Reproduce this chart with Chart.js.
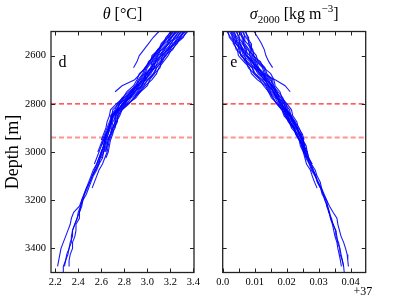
<!DOCTYPE html>
<html lang="en">
<head>
<meta charset="UTF-8">
<title>Theta and sigma2000 profiles</title>
<script src="https://cdn.jsdelivr.net/npm/chart.js"></script>
<style>
  html, body { margin: 0; padding: 0; background: #fff; }
  #wrap { position: relative; width: 407px; height: 305px; }
  #wrap canvas { position: absolute; top: 0; }
</style>
</head>
<body>
<div id="wrap">
  <canvas id="thetaChart" width="208" height="305" style="left:0"></canvas>
  <canvas id="sigmaChart" width="199" height="305" style="left:208px"></canvas>
</div>
<script>
// depth grid shared by every profile (m), profiles start at 2500 m
const depths = [2500, 2525, 2550, 2575, 2600, 2625, 2650, 2675, 2700, 2725,
                2750, 2775, 2800, 2825, 2850, 2875, 2900, 2925, 2950, 2975,
                3000, 3025, 3050, 3075, 3100, 3125, 3150, 3175, 3200, 3225,
                3250, 3275, 3300, 3325, 3350, 3375, 3400, 3425, 3450, 3475, 3500];

// potential temperature (degC)
const thetaProfiles = [
  [3.34,3.31,3.25,3.22,3.15,3.13,3.08,3.05,3.00,2.97,2.93,2.86,2.82,2.76,2.74,2.72,2.70,2.68,2.66,2.65,2.64],
  [3.20,3.17,3.12,3.10,3.04,3.03,2.99,2.97,2.93,2.91,2.85,2.82,2.76,2.74,2.70,2.68,2.66,2.64,2.62,2.60],
  [3.29,3.26,3.23,3.17,3.13,3.12,3.08,3.06,3.02,3.00,2.94,2.88,2.84,2.78,2.74,2.74,2.71,2.70,2.68,2.67,2.66,2.64],
  [3.24,3.21,3.15,3.10,3.07,3.01,2.99,2.93,2.91,2.88,2.82,2.79,2.73,2.68,2.67,2.65,2.64,2.62,2.60],
  [3.32,3.27,3.24,3.18,3.14,3.09,3.07,3.01,2.99,2.93,2.89,2.85,2.78,2.75,2.70,2.69,2.67,2.64,2.62,2.60,2.58,2.56,2.54],
  [3.22,3.19,3.17,3.12,3.09,3.05,3.04,2.99,2.98,2.95,2.88,2.84,2.81,2.76,2.72,2.72,2.70,2.68,2.66,2.65,2.63],
  [3.28,3.23,3.21,3.16,3.09,3.07,3.06,3.01,2.96,2.91,2.87,2.83,2.76,2.73,2.69,2.68,2.66,2.65,2.63,2.62,2.60,2.59,2.57,2.55,2.52],
  [3.31,3.29,3.22,3.20,3.16,3.11,3.06,3.03,2.98,2.95,2.91,2.84,2.80,2.74,2.72,2.72,2.70,2.69,2.67,2.66,2.65,2.63,2.61,2.58,2.56,2.54,2.52],
  [3.26,3.21,3.19,3.14,3.11,3.06,3.04,3.02,2.98,2.95,2.89,2.85,2.78,2.75,2.71,2.69,2.68,2.66,2.64,2.63,2.61,2.59,2.58,2.55,2.52,2.50,2.48,2.455,2.44,2.42,2.40,2.39,2.37,2.35,2.35,2.33,2.32,2.31,2.29,2.27,2.27],
  [3.30,3.25,3.20,3.18,3.12,3.07,3.05,2.99,2.97,2.91,2.87,2.80,2.76,2.73,2.69,2.69,2.67,2.65,2.63,2.62,2.60,2.58,2.56,2.54,2.52,2.50,2.47,2.45,2.43,2.42,2.41,2.39,2.37,2.35,2.34,2.34,2.32,2.30,2.29,2.28],
  [3.25,3.20,3.18,3.13,3.06,3.04,3.03,2.98,2.97,2.92,2.89,2.83,2.80,2.75,2.73,2.70,2.69,2.68,2.65,2.64,2.62,2.61,2.58,2.56,2.53,2.51,2.49,2.47,2.44,2.43,2.41,2.41,2.38,2.38,2.37,2.35,2.35,2.33,2.32,2.32],
  [3.27,3.24,3.18,3.15,3.12,3.08,3.03,3.00,2.95,2.92,2.86,2.82,2.79,2.74,2.70,2.68,2.67,2.64,2.63,2.62,2.60,2.58,2.56,2.53,2.51,2.49,2.47,2.45,2.43,2.41,2.36,2.34,2.33,2.31,2.29,2.27,2.25,2.24,2.23,2.22],
  [3.33,3.28,3.26,3.21,3.18,3.14,3.10,3.08,3.04,2.98,2.94,2.90,2.83,2.78,2.76,2.73,2.72,2.69],
  [3.21,3.16,3.14,3.09,3.06,3.02,2.98,2.96,2.92,2.90,2.84,2.78,2.75,2.70,2.69,2.67,2.65,2.63,2.61,2.59,2.57],
  [3.35,3.30,3.24,3.19,3.16,3.12,3.11,3.06,3.01,2.96,2.92,2.89,2.83,2.77,2.75,2.73,2.71],
  [3.23,3.18,3.13,3.11,3.08,3.04,3.00,2.98,2.94,2.89,2.86,2.80,2.74,2.72,2.68,2.69,2.67,2.66,2.64,2.63,2.62,2.60],
  [3.10,3.05,3.01,2.97,2.93,2.91,2.88],
  [3.22,3.18,3.14,3.09,3.05,3.02,2.98,2.94,2.89,2.78,2.72]
];

// sigma2000 minus 37 (kg m-3), same casts in the same order
const sigmaProfiles = [
  [0.0017,0.0021,0.0037,0.0042,0.0061,0.0070,0.0092,0.0102,0.0124,0.0137,0.0146,0.0164,0.0174,0.0191,0.0198,0.0211,0.0224,0.0231,0.0242,0.0252,0.0255],
  [0.0073,0.0077,0.0089,0.0090,0.0105,0.0110,0.0128,0.0134,0.0152,0.0155,0.0170,0.0176,0.0192,0.0197,0.0210,0.0223,0.0230,0.0243,0.0248,0.0258],
  [0.0037,0.0041,0.0045,0.0062,0.0069,0.0074,0.0092,0.0098,0.0116,0.0128,0.0143,0.0158,0.0168,0.0185,0.0198,0.0205,0.0221,0.0228,0.0239,0.0249,0.0252,0.0263],
  [0.0057,0.0061,0.0077,0.0090,0.0093,0.0118,0.0128,0.0150,0.0160,0.0164,0.0179,0.0185,0.0201,0.0215,0.0219,0.0232,0.0236,0.0249,0.0254],
  [0.0025,0.0037,0.0041,0.0058,0.0065,0.0086,0.0096,0.0118,0.0128,0.0149,0.0158,0.0167,0.0186,0.0194,0.0210,0.0217,0.0233,0.0240,0.0251,0.0255,0.0264,0.0269,0.0280],
  [0.0065,0.0069,0.0069,0.0082,0.0085,0.0102,0.0108,0.0126,0.0132,0.0143,0.0161,0.0170,0.0177,0.0191,0.0204,0.0208,0.0221,0.0234,0.0239,0.0249,0.0258],
  [0.0041,0.0053,0.0053,0.0066,0.0085,0.0094,0.0100,0.0118,0.0140,0.0155,0.0164,0.0173,0.0192,0.0200,0.0213,0.0226,0.0233,0.0240,0.0251,0.0255,0.0258,0.0263,0.0274,0.0280,0.0292],
  [0.0029,0.0029,0.0049,0.0050,0.0057,0.0078,0.0100,0.0110,0.0132,0.0143,0.0152,0.0170,0.0180,0.0197,0.0204,0.0211,0.0224,0.0228,0.0239,0.0243,0.0252,0.0257,0.0262,0.0274,0.0280,0.0287,0.0295],
  [0.0049,0.0061,0.0061,0.0074,0.0077,0.0098,0.0108,0.0114,0.0132,0.0143,0.0158,0.0167,0.0186,0.0194,0.0207,0.0220,0.0227,0.0240,0.0245,0.0249,0.0258,0.0266,0.0271,0.0283,0.0292,0.0296,0.0306,0.0314,0.0319,0.0328,0.0334,0.0337,0.0345,0.0353,0.0354,0.0362,0.0366,0.0367,0.0374,0.0378,0.0380],
  [0.0033,0.0045,0.0057,0.0058,0.0073,0.0094,0.0104,0.0126,0.0136,0.0155,0.0164,0.0182,0.0192,0.0200,0.0213,0.0220,0.0233,0.0237,0.0248,0.0252,0.0261,0.0266,0.0277,0.0283,0.0289,0.0299,0.0309,0.0314,0.0325,0.0328,0.0331,0.0340,0.0345,0.0353,0.0357,0.0359,0.0366,0.0370,0.0374,0.0378],
  [0.0053,0.0065,0.0065,0.0078,0.0097,0.0106,0.0112,0.0130,0.0136,0.0152,0.0158,0.0173,0.0180,0.0194,0.0201,0.0217,0.0224,0.0231,0.0242,0.0246,0.0255,0.0260,0.0271,0.0277,0.0289,0.0296,0.0306,0.0311,0.0322,0.0325,0.0333,0.0337,0.0343,0.0347,0.0351,0.0357,0.0360,0.0364,0.0368,0.0371],
  [0.0045,0.0049,0.0065,0.0070,0.0073,0.0090,0.0112,0.0122,0.0144,0.0152,0.0167,0.0176,0.0183,0.0197,0.0210,0.0223,0.0230,0.0243,0.0251,0.0255,0.0264,0.0269,0.0277,0.0289,0.0295,0.0305,0.0309,0.0317,0.0325,0.0334,0.0345,0.0357,0.0360,0.0365,0.0370,0.0378,0.0384,0.0389,0.0391,0.0393],
  [0.0021,0.0033,0.0033,0.0046,0.0049,0.0066,0.0084,0.0090,0.0108,0.0134,0.0143,0.0152,0.0171,0.0185,0.0192,0.0208,0.0215,0.0231],
  [0.0069,0.0081,0.0081,0.0094,0.0097,0.0114,0.0132,0.0138,0.0156,0.0158,0.0173,0.0188,0.0195,0.0209,0.0213,0.0226,0.0239,0.0246,0.0251,0.0261,0.0264],
  [0.0013,0.0025,0.0041,0.0054,0.0057,0.0074,0.0080,0.0098,0.0120,0.0140,0.0149,0.0155,0.0171,0.0188,0.0195,0.0211,0.0218],
  [0.0061,0.0073,0.0085,0.0086,0.0089,0.0106,0.0124,0.0130,0.0148,0.0161,0.0167,0.0182,0.0198,0.0203,0.0216,0.0220,0.0233,0.0237,0.0248,0.0252,0.0255,0.0266],
  [0.0098,0.0110,0.0121,0.0130,0.0135,0.0144,0.0156],
  [0.0030,0.0040,0.0052,0.0063,0.0075,0.0090,0.0105,0.0125,0.0164,0.0195,0.0211]
];

// layer boundaries (dashed lines)
const layerDepths = [2800, 2940];

// axes
const depthRange = [2500, 3500];
const depthTicks = [2600, 2800, 3000, 3200, 3400];
const thetaRange = [2.163, 3.405];
const thetaTicks = [2.2, 2.4, 2.6, 2.8, 3.0, 3.2, 3.4];
const thetaTickLabels = ['2.2', '2.4', '2.6', '2.8', '3.0', '3.2', '3.4'];
const sigmaRange = [0, 0.0447];
const sigmaTicks = [0, 0.005, 0.01, 0.015, 0.02, 0.025, 0.03, 0.035, 0.04];
const sigmaTickLabels = ['0.0', '', '0.01', '', '0.02', '', '0.03', '', '0.04'];

const SERIF = '"Liberation Serif", "Times New Roman", serif';
const layerColors = ['rgba(255,0,0,0.85)', 'rgba(255,110,110,0.75)'];
const layerWidths = [1.2, 2];

// frame, inward ticks and the texts around each panel
const panelDecor = {
  id: 'panelDecor',
  afterDraw(chart, args, o) {
    const { ctx, chartArea: a, scales: { x, y } } = chart;
    ctx.save();
    ctx.strokeStyle = '#222';
    ctx.lineWidth = 1;
    ctx.beginPath();
    x.ticks.forEach(t => {
      const px = Math.round(x.getPixelForValue(t.value)) + 0.5;
      ctx.moveTo(px, a.top); ctx.lineTo(px, a.top + 4);
      ctx.moveTo(px, a.bottom); ctx.lineTo(px, a.bottom - 4);
    });
    y.ticks.forEach(t => {
      const py = Math.round(y.getPixelForValue(t.value)) + 0.5;
      ctx.moveTo(a.left, py); ctx.lineTo(a.left + 4, py);
      ctx.moveTo(a.right, py); ctx.lineTo(a.right - 4, py);
    });
    ctx.stroke();
    ctx.lineWidth = 1.3;
    ctx.strokeRect(a.left, a.top, a.width, a.height);

    ctx.fillStyle = '#000';
    ctx.textBaseline = 'alphabetic';
    ctx.textAlign = 'left';
    ctx.font = '16px ' + SERIF;
    ctx.fillText(o.letter, a.left + 7.5, a.top + 35);

    // title built from pieces (italic symbol, sub/superscripts)
    let w = 0;
    o.title.forEach(p => { ctx.font = p.font; w += ctx.measureText(p.text).width; });
    let tx = (a.left + a.right) / 2 - w / 2;
    o.title.forEach(p => {
      ctx.font = p.font;
      ctx.fillText(p.text, tx, 19 + (p.dy || 0));
      tx += ctx.measureText(p.text).width;
    });

    if (o.yLabel) {
      ctx.save();
      ctx.translate(13, (a.top + a.bottom) / 2);
      ctx.rotate(-Math.PI / 2);
      ctx.textAlign = 'center';
      ctx.textBaseline = 'middle';
      ctx.font = '18px ' + SERIF;
      ctx.fillText(o.yLabel, 0, 0);
      ctx.restore();
    }
    if (o.offsetText) {
      ctx.font = '12px ' + SERIF;
      ctx.textAlign = 'right';
      ctx.fillText(o.offsetText, a.right + 6.5, 295);
    }
    ctx.restore();
  }
};

function makePanel(id, profiles, xRange, xTicks, xLabels, yAxisWidth, padRight, decor) {
  const datasets = profiles.map(vals => ({
    data: vals.map((v, i) => ({ x: v, y: depths[i] })),
    borderColor: 'rgba(0,0,255,0.9)',
    borderWidth: 1.1,
    pointRadius: 0,
    showLine: true,
    order: 0
  }));
  layerDepths.forEach((d, k) => {
    datasets.push({
      data: [{ x: xRange[0], y: d }, { x: xRange[1], y: d }],
      borderColor: layerColors[k],
      borderWidth: layerWidths[k],
      borderDash: [5, 3],
      pointRadius: 0,
      showLine: true,
      order: 1
    });
  });

  return new Chart(document.getElementById(id), {
    type: 'scatter',
    data: { datasets },
    options: {
      responsive: false,
      animation: false,
      events: [],
      layout: { padding: { top: 31.5, right: padRight, bottom: 0, left: 0 } },
      plugins: { legend: { display: false }, tooltip: { enabled: false }, panelDecor: decor },
      scales: {
        x: {
          type: 'linear',
          min: xRange[0],
          max: xRange[1],
          afterBuildTicks: s => { s.ticks = xTicks.map(v => ({ value: v })); },
          afterFit: s => { s.height = 32.5; },
          grid: { display: false, drawTicks: false },
          border: { display: false },
          ticks: {
            padding: 3.5,
            autoSkip: false,
            maxRotation: 0,
            color: '#000',
            font: { family: SERIF, size: 10.5 },
            callback: (v, i) => xLabels[i]
          }
        },
        y: {
          type: 'linear',
          reverse: true,
          min: depthRange[0],
          max: depthRange[1],
          afterBuildTicks: s => { s.ticks = depthTicks.map(v => ({ value: v })); },
          afterFit: s => { s.width = yAxisWidth; },
          grid: { display: false, drawTicks: false },
          border: { display: false },
          ticks: {
            display: decor.yLabel !== undefined,
            padding: 5,
            color: '#000',
            font: { family: SERIF, size: 10.5 },
            callback: v => String(v)
          }
        }
      }
    },
    plugins: [panelDecor]
  });
}

makePanel('thetaChart', thetaProfiles, thetaRange, thetaTicks, thetaTickLabels, 51, 14, {
  letter: 'd',
  yLabel: 'Depth [m]',
  title: [
    { text: 'θ', font: 'italic 16px ' + SERIF },
    { text: ' [°C]', font: '16px ' + SERIF }
  ]
});

makePanel('sigmaChart', sigmaProfiles, sigmaRange, sigmaTicks, sigmaTickLabels, 14.7, 41.3, {
  letter: 'e',
  offsetText: '+37',
  title: [
    { text: 'σ', font: 'italic 16px ' + SERIF },
    { text: '2000', font: '11px ' + SERIF, dy: 4 },
    { text: ' [kg m', font: '16px ' + SERIF },
    { text: '−3', font: '11px ' + SERIF, dy: -7 },
    { text: ']', font: '16px ' + SERIF }
  ]
});
</script>
</body>
</html>
